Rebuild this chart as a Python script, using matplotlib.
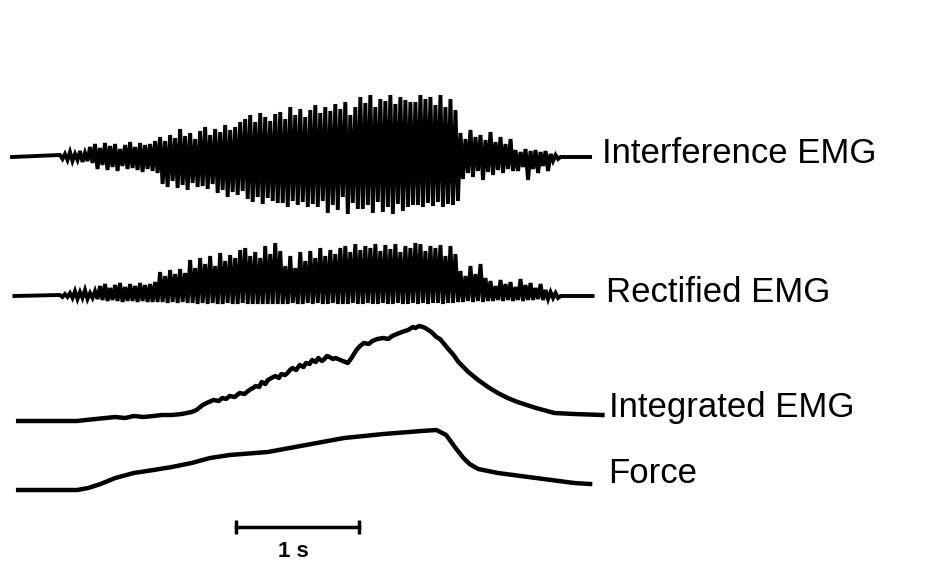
import numpy as np
import matplotlib
matplotlib.use("Agg")
import matplotlib.pyplot as plt

plt.rcParams["font.family"] = ["Liberation Sans", "DejaVu Sans"]

# time axis in seconds, amplitudes in arbitrary units (1 unit ~ 1 px of the original)
EMG_T0 = 0.39       # first burst bin
EMG_DT = 0.0407     # bin width
EMG_START = 0.0
EMG_END = 4.70

# interference EMG: positive and negative excursion per bin
interf_up = [2, 3, 5, 3, 6, 4, 10,
             13, 9, 14, 11, 13, 8, 12, 15, 10, 14, 12, 13, 16,
             20, 16, 22, 19, 28, 21, 24, 18, 26, 30, 22,
             28, 25, 32, 27, 30, 35,
             38, 42, 35, 44, 40, 36, 43,
             45, 38, 50, 42, 48, 40, 47,
             52, 44, 50, 46, 53, 48, 55, 42, 50,
             60, 54, 62, 50, 58, 56, 62, 53, 60, 57, 55,
             55, 62, 58, 60, 52, 62, 50, 58, 47,
             24, 18, 27, 20, 22, 17, 25, 15, 20, 13, 18,
             7, 5, 8, 6, 7, 5, 6, 3, 2]
interf_down = [2, 3, 4, 3, 5, 4, 6,
               12, 8, 13, 10, 14, 9, 12, 11, 13, 15, 12, 14, 16,
               27, 30, 24, 31, 28, 33, 26, 30, 29, 32, 27,
               36, 33, 40, 35, 38, 34,
               42, 45, 40, 47, 41, 44, 46,
               46, 50, 44, 48, 45, 50, 47,
               50, 44, 56, 48, 53, 40, 57, 46, 52,
               52, 48, 56, 45, 55, 50, 57, 47, 54, 50, 48,
               48, 50, 46, 49, 45, 50, 47, 48, 44,
               22, 16, 20, 14, 23, 15, 18, 13, 16, 12, 14,
               14, 10, 23, 12, 16, 9, 14, 4, 2]

# rectified EMG
rect_up = [1, 2, 3, 5, 4, 6, 3, 5,
           10, 12, 8, 11, 13, 9, 12, 10, 13, 11, 12, 14,
           24, 20, 26, 22, 27, 23,
           36, 28, 38, 32, 40, 30, 43, 35, 41, 38, 46,
           48, 40, 44, 38, 50, 42, 53, 45,
           30, 40, 28, 44, 35,
           45, 38, 48, 40, 46, 42, 48,
           50, 44, 52, 46, 50, 48, 52, 45, 51, 47, 52, 44, 50, 48, 53,
           52, 45, 50, 48, 51, 40, 50, 42,
           25, 20, 30, 22, 32, 18,
           15, 10, 16, 12, 14, 9, 17, 11, 13, 8, 12, 6, 4, 3]
rect_down = [1, 1, 2, 3, 2, 3, 2, 3,
             4, 5, 4, 5, 6, 5, 5, 6, 5, 6, 6, 6,
             6, 7, 6, 7, 6, 7,
             7, 8, 7, 8, 7, 8, 8, 7, 8, 8, 7,
             8, 8, 8, 8, 8, 8, 8, 8,
             8, 7, 8, 8, 7,
             8, 7, 8, 8, 7, 8, 8,
             8, 7, 8, 8, 7, 8, 8, 7, 8, 8, 7, 8, 8, 7, 8,
             7, 8, 7, 7, 8, 7, 7, 6,
             6, 5, 6, 5, 6, 5,
             5, 4, 5, 4, 5, 4, 5, 4, 4, 3, 4, 3, 2, 2]

# integrated EMG
integ_t = [0.05, 0.31, 0.53, 0.60, 0.68, 0.76, 0.84, 0.92, 0.99, 1.07, 1.15, 1.22,
           1.30, 1.38, 1.46, 1.50, 1.55, 1.60, 1.64, 1.68, 1.71, 1.74, 1.77, 1.81,
           1.85, 1.89, 1.93, 1.96, 1.98, 2.01, 2.03, 2.06, 2.08, 2.11, 2.14, 2.17,
           2.19, 2.22, 2.24, 2.26, 2.28, 2.31, 2.34, 2.37, 2.39, 2.42, 2.44, 2.47,
           2.49, 2.52, 2.54, 2.56, 2.58, 2.61, 2.63, 2.67, 2.71, 2.73, 2.76, 2.80,
           2.83, 2.86, 2.90, 2.93, 2.97, 3.02, 3.06, 3.09, 3.13, 3.17, 3.22, 3.26,
           3.28, 3.31, 3.34, 3.36, 3.41, 3.45, 3.48, 3.50, 3.54, 3.59, 3.63, 3.67,
           3.71, 3.79, 3.87, 3.95, 4.03, 4.11, 4.26, 4.41, 4.57, 4.80]
integ_v = [0, 0, 0, 1, 2, 3, 4, 3, 5, 4, 5, 6,
           6, 7, 9, 11, 16, 19, 21, 20, 23, 22, 25, 24,
           28, 27, 31, 33, 35, 34, 39, 37, 41, 43, 45, 43,
           47, 46, 48, 51, 53, 51, 56, 54, 58, 57, 61, 59,
           63, 60, 62, 65, 64, 62, 63, 61, 59, 58, 63, 71,
           75, 78, 77, 80, 82, 83, 82, 85, 87, 89, 91, 94,
           93, 95, 94, 93, 89, 84, 82, 79, 73, 66, 59, 54,
           49, 41, 34, 28, 23, 19, 13, 8, 7, 6]

# force
force_t = [0.05, 0.31, 0.53, 0.62, 0.72, 0.84, 0.99, 1.15, 1.30, 1.46, 1.61, 1.77,
           2.08, 2.39, 2.70, 3.02, 3.33, 3.45, 3.53, 3.60, 3.67, 3.72, 3.79, 3.95,
           4.26, 4.57, 4.70]
force_v = [0, 0, 0, 2, 6, 12, 17, 20, 23, 27, 32, 35,
           38, 45, 52, 56, 59, 60, 55, 43, 32, 26, 21, 17,
           12, 7, 6]

labels = ["Interference EMG", "Rectified EMG", "Integrated EMG", "Force"]
SCALE_BAR_S = 1.0


def zigzag(up, down, t0, dt, start, end):
    xs, ys = [start], [0.0]
    for i, (u, d) in enumerate(zip(up, down)):
        t = t0 + i * dt
        xs += [t, t + dt / 2]
        ys += [u, -d]
    xs += [t0 + len(up) * dt, end]
    ys += [0.0, 0.0]
    return np.array(xs), np.array(ys)


fig = plt.figure(figsize=(9.48, 5.67), dpi=100)
ax = fig.add_axes([0, 0, 1, 1])
ax.set_xlim(-12 / 123, 936 / 123)
ax.set_ylim(0, 567)
ax.axis("off")

base_interf, base_rect, base_integ, base_force = 410, 271, 146, 77

x, y = zigzag(interf_up, interf_down, EMG_T0, EMG_DT, EMG_START, EMG_END)
ax.plot(x, y + base_interf, color="black", lw=2.8, solid_joinstyle="miter")

x, y = zigzag(rect_up, rect_down, EMG_T0, EMG_DT, EMG_START + 0.02, EMG_END + 0.02)
ax.plot(x, y + base_rect, color="black", lw=2.8, solid_joinstyle="miter")

ax.plot(integ_t, np.array(integ_v) + base_integ, color="black", lw=3.2)
ax.plot(force_t, np.array(force_v) + base_force, color="black", lw=3.2)

# labels
lab_x = [4.80, 4.83, 4.85, 4.85]
lab_y = [404, 265, 150, 84]
for txt, lx, ly in zip(labels, lab_x, lab_y):
    ax.text(lx, ly, txt, fontsize=25, va="baseline", ha="left", color="black")

# scale bar
sb_t0 = 1.82
ax.plot([sb_t0, sb_t0 + SCALE_BAR_S], [40, 40], color="black", lw=2.5,
        marker="|", markersize=10, markeredgewidth=2.5)
ax.text(sb_t0 + SCALE_BAR_S / 2 - 0.03, 10, "1 s", fontsize=16, fontweight="bold",
        ha="center", va="baseline")

fig.savefig("out.png", dpi=100)
